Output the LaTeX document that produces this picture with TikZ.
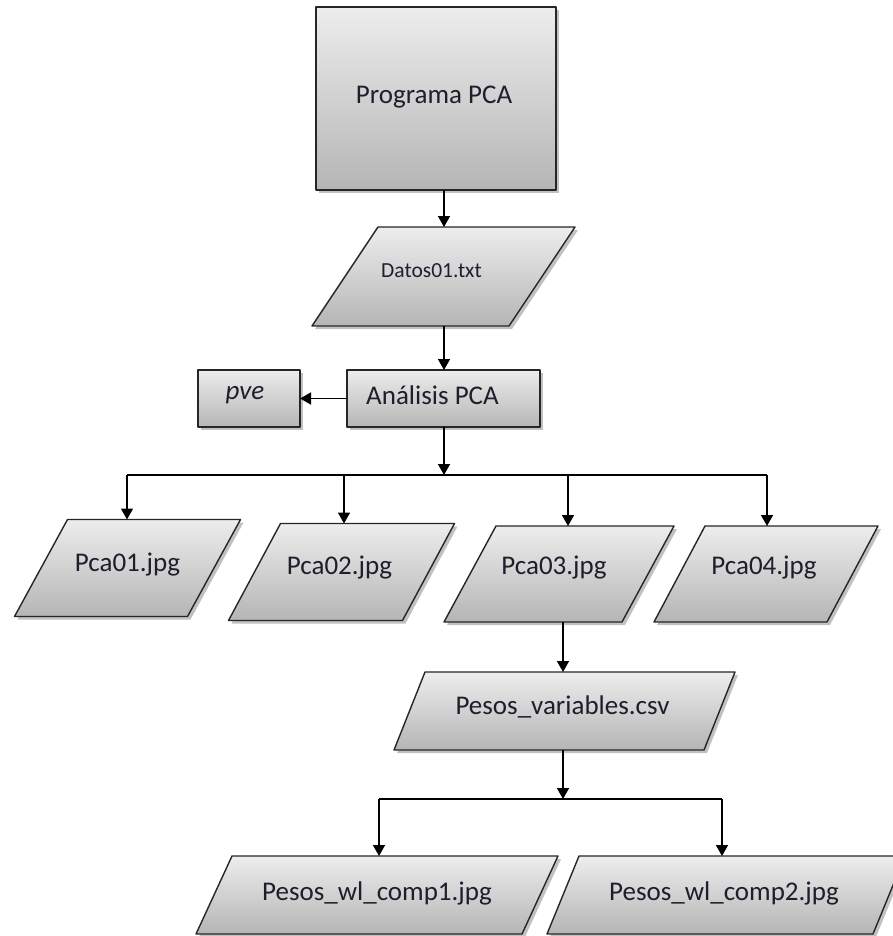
\documentclass[tikz,border=0pt]{standalone}
\usepackage{fontspec}
\setmainfont{Carlito}
\usetikzlibrary{shadows,arrows.meta,calc,backgrounds}

\definecolor{inktext}{HTML}{1E1E2C}
\definecolor{edgegray}{HTML}{262626}
\definecolor{shadetop}{HTML}{EDEDED}
\definecolor{shadebot}{HTML}{B5B5B5}

\tikzset{
  shapefill/.style={draw=edgegray, line width=1.4pt, line join=round,
    top color=shadetop, bottom color=shadebot,
    drop shadow={shadow xshift=3pt, shadow yshift=-3pt, opacity=0.35, fill=black!70}},
  procbox/.style={shapefill, rectangle, inner sep=0pt, outer sep=0pt},
  iobox/.style={rectangle, inner sep=0pt, outer sep=0pt},
  caption/.style={text=inktext, font=\fontsize{27}{32}\selectfont, inner sep=0pt},
  smallcaption/.style={text=inktext, font=\fontsize{21.5}{26}\selectfont, inner sep=0pt},
  conn/.style={line width=1.5pt, black},
  arr/.style={conn, -{Triangle[width=12pt,length=11pt]}},
}

% slanted data outline behind the node #1, top edge shifted right by #2
\newcommand\dataoutline[2]{%
  \begin{pgfonlayer}{background}
    \path[shapefill] (#1.south west) -- ($(#1.north west)+(#2,0)$)
      -- (#1.north east) -- ($(#1.south east)-(#2,0)$) -- cycle;
  \end{pgfonlayer}}

\begin{document}
\begin{tikzpicture}[x=1pt,y=-1pt]
\useasboundingbox (0,0) rectangle (893,936);

% main process and its input file
\node[procbox, minimum width=240pt, minimum height=183pt,
      label={[name=prog-text, caption, xshift=-2pt, yshift=1pt]center:Programa PCA}]
  (prog) at (436,98.5) {};
\node[iobox, minimum width=263pt, minimum height=99pt,
      label={[name=datos-text, smallcaption, xshift=-12pt, yshift=6pt]center:Datos01.txt}]
  (datos) at (443.5,276.5) {};
\dataoutline{datos}{66}

% analysis step and its side output
\node[procbox, minimum width=193pt, minimum height=57pt,
      label={[name=analisis-text, caption, xshift=-11pt, yshift=3pt]center:Análisis PCA}]
  (analisis) at (443.5,398.5) {};
\node[procbox, minimum width=102pt, minimum height=57pt,
      label={[name=pve-text, caption, xshift=-4pt, yshift=3pt]center:\itshape pve}]
  (pve) at (249,398.5) {};

% generated plots
\node[iobox, minimum width=226pt, minimum height=97pt,
      label={[name=pca1-text, caption, yshift=3pt]center:Pca01.jpg}]
  (pca1) at (127.5,568) {};
\dataoutline{pca1}{53}
\node[iobox, minimum width=226pt, minimum height=97pt,
      label={[name=pca2-text, caption, xshift=-2pt, yshift=4pt]center:Pca02.jpg}]
  (pca2) at (341.5,572) {};
\dataoutline{pca2}{52}
\node[iobox, minimum width=230pt, minimum height=96pt,
      label={[name=pca3-text, caption, xshift=-5pt, yshift=6pt]center:Pca03.jpg}]
  (pca3) at (559,574) {};
\dataoutline{pca3}{52}
\node[iobox, minimum width=224pt, minimum height=96pt,
      label={[name=pca4-text, caption, xshift=-2pt, yshift=6pt]center:Pca04.jpg}]
  (pca4) at (766,574) {};
\dataoutline{pca4}{51}

% weights table and its plots
\node[iobox, minimum width=341pt, minimum height=78pt,
      label={[name=pvar-text, caption, xshift=-2pt, yshift=4pt]center:Pesos\_variables.csv}]
  (pvar) at (564.5,711) {};
\dataoutline{pvar}{31}
\node[iobox, minimum width=362pt, minimum height=78pt,
      label={[name=comp1-text, caption, yshift=2pt]center:Pesos\_wl\_comp1.jpg}]
  (comp1) at (377,895) {};
\dataoutline{comp1}{36}
\node[iobox, minimum width=358pt, minimum height=78pt,
      label={[name=comp2-text, caption, xshift=-2pt, yshift=2pt]center:Pesos\_wl\_comp2.jpg}]
  (comp2) at (726,895) {};
\dataoutline{comp2}{32}

% routing points
\coordinate (spine) at (444,0);
\coordinate (spineB) at (563,0);
\coordinate (tapA) at (127,475);
\coordinate (tapB) at (344,475);
\coordinate (tapC) at (568,475);
\coordinate (tapD) at (767,475);
\coordinate (splitL) at (379,799);
\coordinate (splitR) at (722,799);

% connectors
\draw[arr] (prog.south -| spine) -- (datos.north -| spine);
\draw[arr] (datos.south -| spine) -- (analisis.north -| spine);
\draw[arr] (analisis.west) -- (pve.east);
\draw[arr] (analisis.south -| spine) -- (tapA -| spine);
\draw[conn] (tapA) -- (tapD);
\draw[arr] (tapA) -- (tapA |- pca1.north);
\draw[arr] (tapB) -- (tapB |- pca2.north);
\draw[arr] (tapC) -- (tapC |- pca3.north);
\draw[arr] (tapD) -- (tapD |- pca4.north);
\draw[arr] (pca3.south -| spineB) -- (pvar.north -| spineB);
\draw[arr] (pvar.south -| spineB) -- (splitL -| spineB);
\draw[conn] (splitL) -- (splitR);
\draw[arr] (splitL) -- (splitL |- comp1.north);
\draw[arr] (splitR) -- (splitR |- comp2.north);
\end{tikzpicture}
\end{document}
